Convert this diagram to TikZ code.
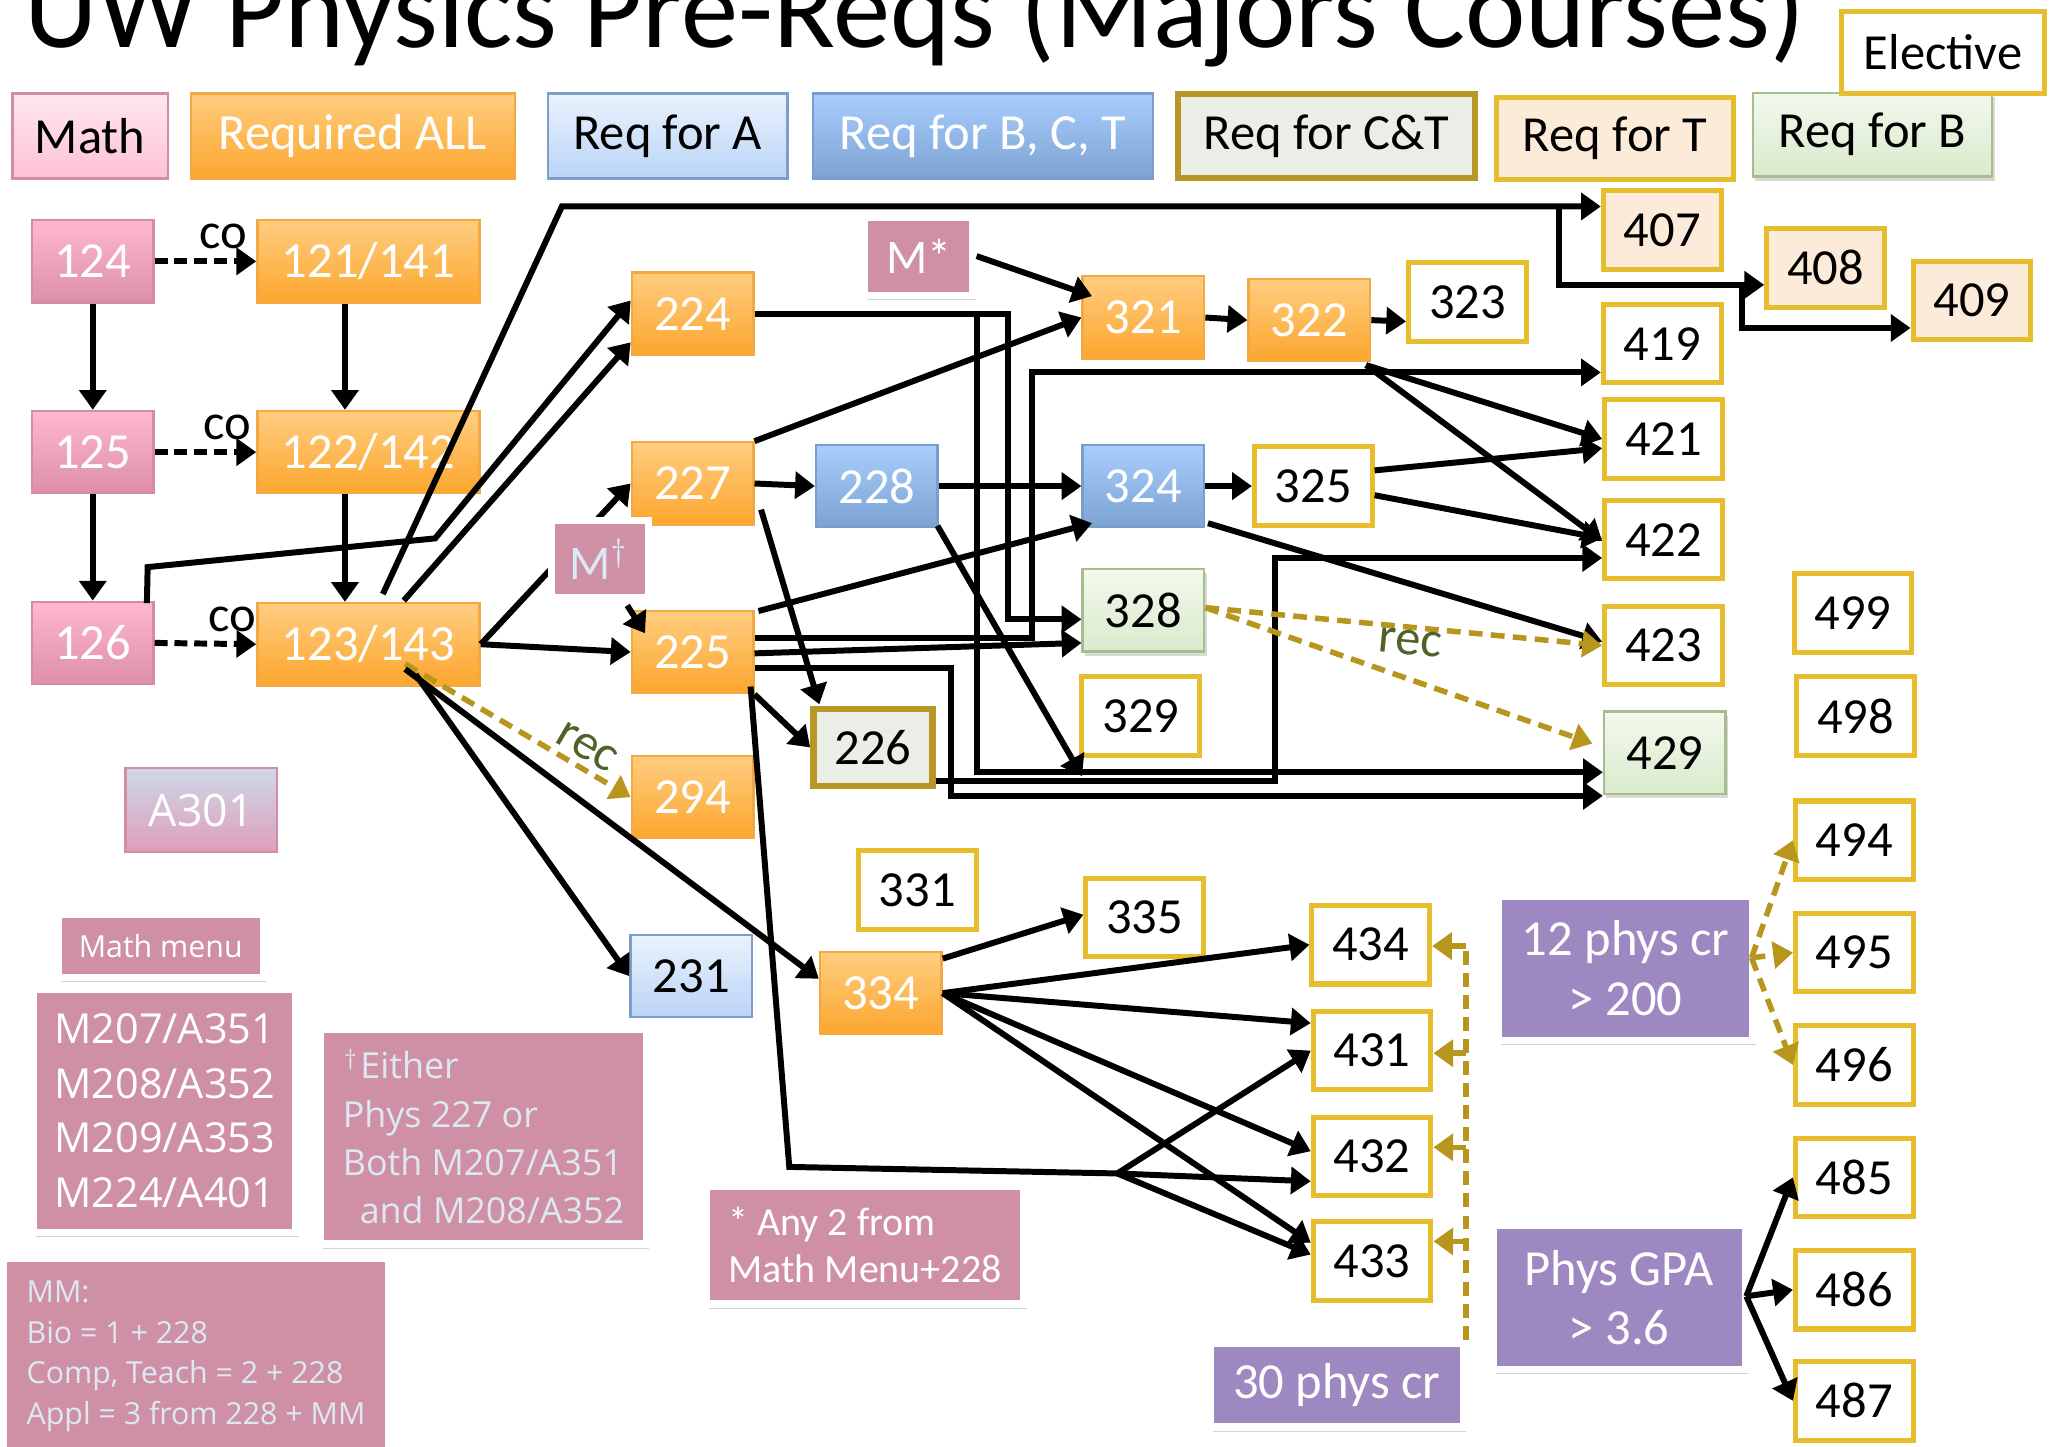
\documentclass[tikz,border=0pt]{standalone}
\usepackage{fontspec}
\setmainfont{Carlito}
\newfontfamily\notefont{Open Sans}
\usetikzlibrary{arrows.meta,positioning,shadows,calc}

\definecolor{keytop}{RGB}{255,232,239}
\definecolor{keybot}{RGB}{254,193,211}
\definecolor{mathtop}{RGB}{254,184,205}
\definecolor{mathbot}{RGB}{221,143,168}
\definecolor{mathline}{RGB}{212,140,166}
\definecolor{alltop}{RGB}{255,205,128}
\definecolor{allbot}{RGB}{252,166,46}
\definecolor{allline}{RGB}{244,168,66}
\definecolor{atop}{RGB}{234,242,253}
\definecolor{abot}{RGB}{186,212,247}
\definecolor{aline}{RGB}{125,158,203}
\definecolor{bcttop}{RGB}{168,205,254}
\definecolor{bctbot}{RGB}{124,163,210}
\definecolor{bctline}{RGB}{122,158,203}
\definecolor{ctfill}{RGB}{235,238,230}
\definecolor{ctline}{RGB}{184,150,40}
\definecolor{tfill}{RGB}{253,235,218}
\definecolor{gold}{RGB}{230,190,45}
\definecolor{btop}{RGB}{243,249,237}
\definecolor{bbot}{RGB}{217,234,204}
\definecolor{bline}{RGB}{166,190,142}
\definecolor{notepink}{RGB}{207,144,166}
\definecolor{notetext}{RGB}{220,233,243}
\definecolor{crpurple}{RGB}{158,136,194}
\definecolor{recgold}{RGB}{184,150,30}
\definecolor{recgreen}{RGB}{79,98,40}
\definecolor{a301top}{RGB}{206,216,232}
\definecolor{a301bot}{RGB}{222,158,186}

\tikzstyle{cell} = [rectangle, inner sep=0pt, minimum width=0.93cm, minimum height=0.63cm, font=\fontsize{11}{13}\selectfont]
\tikzstyle{keycell} = [cell, top color=keytop, bottom color=keybot, draw=mathline, line width=0.5pt]
\tikzstyle{mathcell} = [cell, top color=mathtop, bottom color=mathbot, draw=mathline, line width=0.5pt, text=white]
\tikzstyle{allcell} = [cell, top color=alltop, bottom color=allbot, draw=allline, line width=0.5pt, text=white]
\tikzstyle{acell} = [cell, top color=atop, bottom color=abot, draw=aline, line width=0.5pt]
\tikzstyle{bctcell} = [cell, top color=bcttop, bottom color=bctbot, draw=bctline, line width=0.5pt, text=white]
\tikzstyle{ctcell} = [cell, fill=ctfill, draw=ctline, line width=1.4pt, minimum width=0.91cm, minimum height=0.59cm]
\tikzstyle{tcell} = [cell, fill=tfill, draw=gold, line width=1.1pt, minimum width=0.90cm, minimum height=0.60cm]
\tikzstyle{bcell} = [cell, top color=btop, bottom color=bbot, draw=bline, line width=0.5pt, drop shadow={opacity=0.3, shadow xshift=0.5pt, shadow yshift=-0.9pt}]
\tikzstyle{elcell} = [cell, fill=white, draw=gold, line width=1.1pt, minimum width=0.90cm, minimum height=0.60cm]
\tikzstyle{notecell} = [rectangle, inner sep=0pt, fill=notepink, draw=white, line width=1.6pt, text=white, font=\fontsize{10.5}{13}\selectfont, drop shadow={opacity=0.35, shadow xshift=0.6pt, shadow yshift=-1pt}]
\tikzstyle{crcell} = [notecell, fill=crpurple, align=center, font=\fontsize{11}{13}\selectfont]
\tikzstyle{arrow} = [line width=1.3pt, -{Triangle[length=4.3pt,width=5.8pt]}]
\tikzstyle{link} = [line width=1.3pt]
\tikzstyle{coarrow} = [arrow, dash pattern=on 2.8pt off 1.5pt]
\tikzstyle{recline} = [line width=1.2pt, color=recgold, dash pattern=on 3pt off 1.8pt]
\tikzstyle{recarrow} = [recline, -{Triangle[length=4.3pt,width=5.8pt]}]
\tikzstyle{colabel} = [above=2pt, inner sep=0pt, text=black, font=\fontsize{11}{13}\selectfont]
\tikzstyle{reclabel} = [inner sep=0pt, text=recgreen, font=\fontsize{11}{13}\selectfont]

\begin{document}
\begin{tikzpicture}[x=0.01cm, y=-0.01cm]
\useasboundingbox (0,0) rectangle (1568,1107);

% Title
\node[anchor=base west, inner sep=0pt, font=\fontsize{24.9}{28}\selectfont] (title) at (18,36) {UW Physics Pre-Reqs (Majors Courses)};

% Legend
\node[keycell, minimum width=1.19cm, minimum height=0.65cm] (kmath) at (69,104) {Math};
\node[allcell, minimum width=2.48cm, minimum height=0.65cm] (kall) at (270,104) {Required ALL};
\node[acell, minimum width=1.83cm, minimum height=0.65cm] (ka) at (511,104) {Req for A};
\node[bctcell, minimum width=2.60cm, minimum height=0.65cm] (kbct) at (752,104) {Req for B, C, T};
\node[ctcell, minimum width=2.27cm, minimum height=0.64cm] (kct) at (1015,104) {Req for C\&T};
\node[tcell, minimum width=1.81cm, minimum height=0.63cm] (kt) at (1236,106) {Req for T};
\node[bcell, minimum width=1.83cm, minimum height=0.64cm] (kb) at (1433,103) {Req for B};
\node[elcell, minimum width=1.55cm, minimum height=0.63cm] (kel) at (1487,40) {Elective};

% 100 level
\node[mathcell] (c124) at (71,200) {124};
\node[allcell, minimum width=1.70cm] (c121) at (282,200) {121/141};
\node[mathcell] (c125) at (71,346) {125};
\node[allcell, minimum width=1.70cm] (c122) at (282,346) {122/142};
\node[mathcell] (c126) at (71,492) {126};
\node[allcell, minimum width=1.70cm] (c123) at (282,493) {123/143};

% 200 level
\node[allcell] (c224) at (530,240) {224};
\node[allcell] (c227) at (530,370) {227};
\node[allcell] (c225) at (530,499) {225};
\node[allcell] (c294) at (530,610) {294};
\node[acell] (c231) at (529,747) {231};
\node[ctcell] (c226) at (668,572) {226};
\node[bctcell] (c228) at (671,372) {228};

% 300 level
\node[allcell] (c321) at (875,243) {321};
\node[allcell] (c322) at (1002,245) {322};
\node[elcell] (c323) at (1123,231) {323};
\node[bctcell] (c324) at (875,372) {324};
\node[elcell] (c325) at (1005,372) {325};
\node[bcell] (c328) at (875,467) {328};
\node[elcell] (c329) at (873,548) {329};
\node[elcell] (c331) at (702,681) {331};
\node[elcell] (c335) at (876,702) {335};
\node[allcell] (c334) at (674,760) {334};

% 400 level
\node[tcell] (c407) at (1272,176) {407};
\node[tcell] (c408) at (1397,205) {408};
\node[tcell] (c409) at (1509,230) {409};
\node[elcell] (c419) at (1272,263) {419};
\node[elcell] (c421) at (1273,336) {421};
\node[elcell] (c422) at (1273,413) {422};
\node[elcell] (c423) at (1273,494) {423};
\node[bcell] (c429) at (1274,576) {429};
\node[elcell] (c434) at (1049,723) {434};
\node[elcell] (c431) at (1050,804) {431};
\node[elcell] (c432) at (1050,885) {432};
\node[elcell] (c433) at (1050,965) {433};
\node[elcell] (c499) at (1418,469) {499};
\node[elcell] (c498) at (1420,548) {498};
\node[elcell] (c494) at (1419,643) {494};
\node[elcell] (c495) at (1419,729) {495};
\node[elcell] (c496) at (1419,815) {496};
\node[elcell] (c485) at (1419,901) {485};
\node[elcell] (c486) at (1419,987) {486};
\node[elcell] (c487) at (1419,1072) {487};

% Notes
\node[cell, top color=a301top, bottom color=a301bot, draw=mathline, line width=0.5pt, text=white, minimum width=1.16cm, minimum height=0.64cm, font=\notefont\fontsize{9.7}{12}\selectfont] (a301) at (154,620) {A301};
\node[notecell, minimum width=0.83cm, minimum height=0.60cm] (mstar) at (703,196) {M*};
\node[notecell, minimum width=1.57cm, minimum height=0.48cm, font=\notefont\fontsize{6.6}{8}\selectfont] (mmenu) at (123,724) {Math menu};
\node[notecell, minimum width=2.01cm, minimum height=1.86cm, align=left, font=\notefont\fontsize{9}{11.9}\selectfont] (mlist) at (126,850) {M207/A351\\M208/A352\\M209/A353\\M224/A401};
\node[notecell, minimum width=2.49cm, minimum height=1.64cm, align=left, text=notetext, font=\notefont\fontsize{7.8}{10.5}\selectfont] (either) at (370,870) {$^\dagger$Either\\Phys 227 or\\Both M207/A351\\\hspace*{3.7pt}and M208/A352};
\node[notecell, minimum width=2.43cm, minimum height=0.90cm, align=left, font=\fontsize{8.7}{10.2}\selectfont] (anytwo) at (662,953) {* Any 2 from\\Math Menu+228};
\node[notecell, minimum width=2.95cm, minimum height=1.50cm, align=left, text=notetext, font=\notefont\fontsize{6.6}{8.8}\selectfont] (mmnote) at (150,1038) {MM:\\Bio = 1 + 228\\Comp, Teach = 2 + 228\\Appl = 3 from 228 + MM};
\node[crcell, minimum width=1.95cm, minimum height=1.10cm] (twelve) at (1244,741) {12 phys cr\\> 200};
\node[crcell, minimum width=1.93cm, minimum height=1.10cm] (gpa) at (1239,993) {Phys GPA\\> 3.6};
\node[crcell, minimum width=1.94cm, minimum height=0.64cm] (thirty) at (1023,1060) {30 phys cr};

% Intro sequence
\draw[coarrow] (c124.east) -- node[colabel, pos=0.68] {co} (c121.west);
\draw[coarrow] (c125.east) -- node[colabel, pos=0.72] {co} (c122.west);
\draw[coarrow] (c126.east) -- node[colabel, pos=0.76] {co} (c123.west);
\draw[arrow] (c124) -- (c125);
\draw[arrow] (c125) -- (c126);
\draw[arrow] ($(c121.south)+(-18,0)$) -- ($(c122.north)+(-18,0)$);
\draw[arrow] ($(c122.south)+(-18,0)$) -- ($(c123.north)+(-18,0)$);

% Out of 126 and 123/143
\draw[arrow] ($(c126.north east)+(-6,2)$) -- (113,434) -- (333,412) -- ($(c224.west)+(0,-10)$);
\draw[arrow] ($(c123.north)+(27,-1)$) -- ($(c224.west)+(0,22)$);
\draw[arrow] ($(c123.north)+(11,-6)$) -- (430,158) -- ($(c407.west)+(0,-18)$);
\coordinate (k407) at (1193,158);
\draw[arrow] (k407) |- ($(c408.west)+(0,13)$);
\coordinate (k408) at (1333,218);
\draw[arrow] (k408) |- ($(c409.west)+(0,21)$);
\draw[arrow] (c123.east) -- (c227.west);
\draw[arrow] (c123.east) -- (c225.west);
\draw[recarrow] ($(c123.center)+(28,15)$) -- node[reclabel, pos=0.76, sloped, above=1.2pt] {rec} (c294.west);
\draw[arrow] ($(c123.center)+(36,23)$) -- (c231.west);
\draw[arrow] ($(c123.center)+(28,19)$) -- ($(c334.west)+(0,-11)$);

% M dagger sits over the 227 line
\node[notecell, minimum width=0.74cm, minimum height=0.59cm, text=notetext] (mdag) at (459,428) {M$^\dagger$};
\draw[arrow] ($(mdag.south)+(21,3)$) -- ($(c225.north west)+(11,18)$);

% 224 and 227
\draw[arrow] (c224.east) -| (771,474) -- ($(c328.west)+(0,7)$);
\draw[arrow] (c224.east) -| (748,591) -- ($(c429.west)+(0,15)$);
\draw[arrow] (c227.north east) -- (c321.west);
\draw[arrow] (c227.east) -- (c228.west);
\draw[arrow] ($(c227.east)+(5,20)$) -- ($(c226.north west)+(7,-1)$);
\draw[arrow] (mstar.east) -- ($(c321.north west)+(8,16)$);

% 225
\draw[arrow] ($(c225.north east)+(3,1)$) -- ($(c324.south west)+(8,-4)$);
\draw[arrow] ($(c225.east)+(0,-11)$) -| (790,285) -- ($(c419.west)+(0,22)$);
\draw[arrow] ($(c225.east)+(0,1)$) -- ($(c328.west)+(0,25)$);
\draw[arrow] ($(c225.east)+(0,12)$) -| (728,609) -- ($(c429.west)+(0,33)$);
\draw[arrow] (c225.south east) -- (c226.west);
\draw[link] ($(c225.south east)+(-3,-6)$) -- (604,893) -- (855,898) coordinate (k225);
\draw[arrow] (k225) -- (c431.west);
\draw[arrow] (k225) -- ($(c432.west)+(0,19)$);
\draw[arrow] (k225) -- ($(c433.west)+(0,-5)$);

% 228 and 226
\draw[arrow] (c228.east) -- (c324.west);
\draw[arrow] ($(c228.south east)+(-1,-2)$) -- ($(c329.south west)+(2,14)$);
\draw[arrow] ($(c226.east)+(0,26)$) -| (976,427) -- ($(c422.west)+(0,14)$);

% 300 level onwards
\draw[arrow] (c321.east) -- (c322.west);
\draw[arrow] (c322.east) -- ($(c323.west)+(0,15)$);
\draw[arrow] ($(c322.south east)+(-4,2)$) -- (c421.west);
\draw[arrow] ($(c322.south east)+(-4,2)$) -- ($(c422.west)+(0,1)$);
\draw[arrow] (c324.east) -- (c325.west);
\draw[arrow] ($(c325.east)+(0,-12)$) -- ($(c421.west)+(0,7)$);
\draw[arrow] ($(c325.east)+(0,7)$) -- ($(c422.west)+(0,-1)$);
\draw[arrow] ($(c324.south east)+(2,-4)$) -- ($(c423.west)+(0,-3)$);
\draw[recarrow] ($(c328.east)+(0,-2)$) -- node[reclabel, pos=0.52, sloped, below] {rec} (c423.west);
\draw[recarrow] ($(c328.east)+(0,-2)$) -- ($(c429.west)+(-8,-7)$);

% 334
\draw[arrow] ($(c334.north east)+(0,6)$) -- ($(c335.west)+(0,-2)$);
\draw[arrow] (c334.east) -- (c434.west);
\draw[arrow] (c334.east) -- ($(c431.west)+(0,-21)$);
\draw[arrow] (c334.east) -- ($(c432.west)+(0,-4)$);
\draw[arrow] (c334.east) -- ($(c433.west)+(0,-14)$);

% Credit requirements
\coordinate (k30) at ($(thirty.north east)+(-1,0)$);
\draw[recline] (k30) -- ($(k30 |- c434.east)+(0,1)$);
\foreach \c/\dy in {c434/1, c431/2, c432/-7, c433/-15}
  \draw[recarrow] ($(k30 |- \c.east)+(0,\dy)$) -- ($(\c.east)+(0,\dy)$);
\foreach \c in {c494,c495,c496}
  \draw[recarrow] ($(twelve.east)+(-4,-8)$) -- (\c.west);
\foreach \c in {c485,c486,c487}
  \draw[arrow] ($(gpa.east)+(-2,-1)$) -- (\c.west);
\end{tikzpicture}
\end{document}
